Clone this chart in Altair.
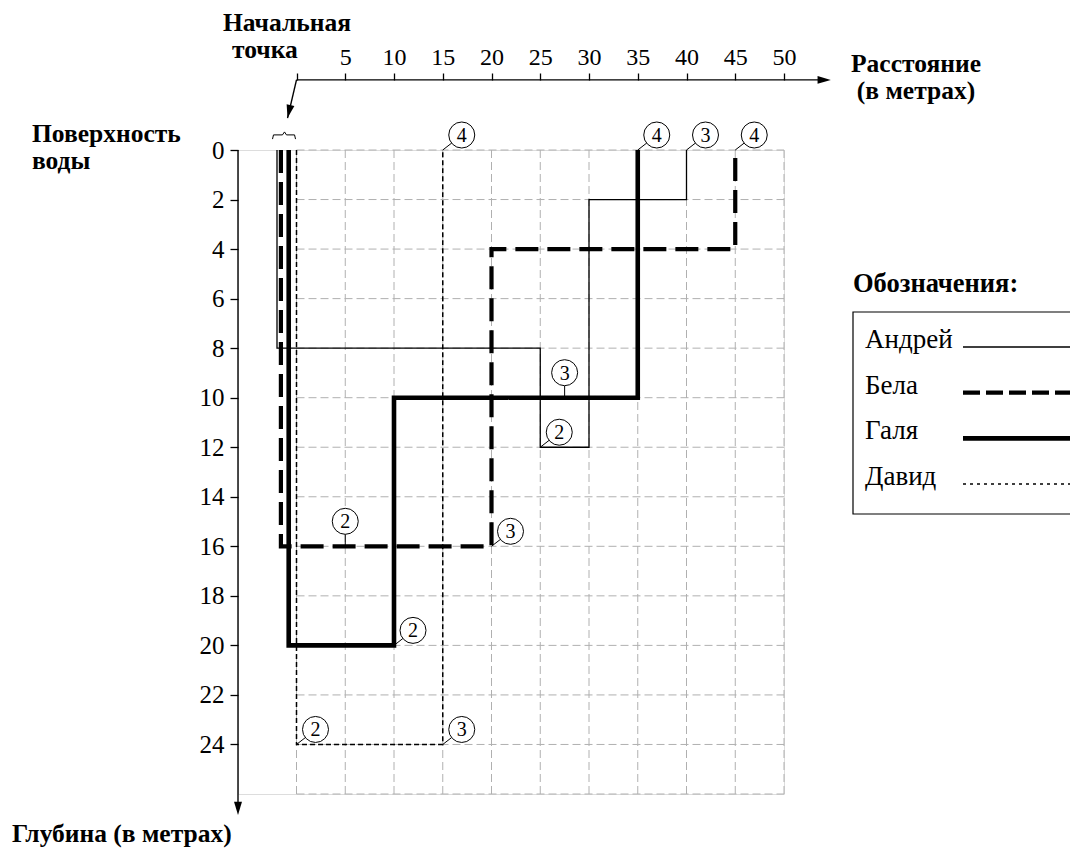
import altair as alt
import pandas as pd

FONT = "'Liberation Serif', 'Times New Roman', serif"

# ---------------- data ----------------
names = ["Андрей", "Бела", "Галя", "Давид"]

andrey_x = [-2, -2, 25, 25, 30, 30, 40, 40]
andrey_y = [0, 8, 8, 12, 12, 2, 2, 0]
bela_x = [-1.6, -1.6, 20, 20, 45, 45]
bela_y = [0, 16, 16, 4, 4, 0]
galya_x = [-0.8, -0.8, 10, 10, 35, 35]
galya_y = [0, 20, 20, 10, 10, 0]
david_x = [0, 0, 15, 15]
david_y = [0, 24, 24, 0]

x_ticks = [0, 5, 10, 15, 20, 25, 30, 35, 40, 45, 50]
y_ticks = [0, 2, 4, 6, 8, 10, 12, 14, 16, 18, 20, 22, 24]
grid_x = [0, 5, 10, 15, 20, 25, 30, 35, 40, 45, 50]
grid_y = [0, 2, 4, 6, 8, 10, 12, 14, 16, 18, 20, 22, 24, 26]

# numbered markers at path corners
corner_x = [25, 40, 20, 45, 10, 35, 0, 15, 15]
corner_y = [12, 0, 16, 0, 20, 0, 24, 24, 0]
corner_num = ["2", "3", "3", "4", "2", "4", "2", "3", "4"]
# numbered markers in the middle of a segment
mid_x = [5, 27.5]
mid_y = [16, 10]
mid_num = ["2", "3"]

# ---------------- tables ----------------
paths = []
for n, xs_, ys_ in zip(names, [andrey_x, bela_x, galya_x, david_x],
                       [andrey_y, bela_y, galya_y, david_y]):
    for i, (a, b) in enumerate(zip(xs_, ys_)):
        paths.append({"name": n, "step": i, "x": a, "y": b})
paths = pd.DataFrame(paths)

X_MIN, X_MAX = -6, 50
Y_MIN, Y_MAX = 0, 26
TOP_AXIS_Y = -2.83
X_ARROW = 54.8
Y_ARROW = 26.85

xs = alt.Scale(domain=[X_MIN, X_MAX], nice=False, zero=False)
ys = alt.Scale(domain=[Y_MIN, Y_MAX], reverse=True, nice=False, zero=False)

x_axis = alt.Axis(orient="top", offset=70, values=x_ticks, domain=False, grid=False,
                  tickColor="black", tickSize=7, tickWidth=1.3, labelFont=FONT,
                  labelFontSize=24, labelColor="black", labelPadding=4, labelAngle=0,
                  labelFlush=False, labelExpr="datum.value == 0 ? '' : datum.label")
y_axis = alt.Axis(orient="left", values=y_ticks, domain=False, grid=False,
                  tickColor="black", tickSize=8, tickWidth=1.3, labelFont=FONT,
                  labelFontSize=25, labelColor="black", labelPadding=6, labelFlush=False)


def X(f):
    return alt.X(f, type="quantitative", scale=xs, axis=x_axis, title=None)


def Y(f):
    return alt.Y(f, type="quantitative", scale=ys, axis=y_axis, title=None)


GRID = dict(color="#b0b0b0", strokeDash=[8, 4], strokeWidth=1)

vgrid = alt.Chart(pd.DataFrame({"gx": grid_x, "g0": Y_MIN, "g1": Y_MAX})).mark_rule(**GRID).encode(
    x=X("gx"), y=Y("g0"), y2="g1")
hgrid = alt.Chart(pd.DataFrame({"gy": grid_y, "g0": 0, "g1": X_MAX})).mark_rule(**GRID).encode(
    y=Y("gy"), x=X("g0"), x2="g1")

axes_df = pd.DataFrame({
    "x": [X_MIN, 0], "y": [0, TOP_AXIS_Y], "x2": [X_MIN, X_ARROW - 0.6], "y2": [Y_ARROW - 0.3, TOP_AXIS_Y]})
axis_lines = alt.Chart(axes_df).mark_rule(color="black", strokeWidth=1.4).encode(
    x=X("x"), y=Y("y"), x2="x2", y2="y2")

DOWN = "M0,0L-0.3,-1L0.3,-1Z"
RIGHT = "M0,0L-1,-0.3L-1,0.3Z"
down_arrow = alt.Chart(pd.DataFrame({"x": [X_MIN], "y": [Y_ARROW]})).mark_point(
    shape=DOWN, size=700, filled=True, color="black", opacity=1).encode(x=X("x"), y=Y("y"))
right_arrow = alt.Chart(pd.DataFrame({"x": [X_ARROW], "y": [TOP_AXIS_Y]})).mark_point(
    shape=RIGHT, size=700, filled=True, color="black", opacity=1).encode(x=X("x"), y=Y("y"))

# arrow from "Начальная точка" to the start
start_df = pd.DataFrame({"x": [0], "y": [TOP_AXIS_Y], "x2": [-0.92], "y2": [-1.29]})
start_line = alt.Chart(start_df).mark_rule(color="black", strokeWidth=1.4).encode(
    x=X("x"), y=Y("y"), x2="x2", y2="y2")
start_head = alt.Chart(start_df).mark_point(
    shape=DOWN, size=700, filled=True, color="black", opacity=1, angle=13).encode(
    x=X("x2"), y=Y("y2"))

# small brace above the four starting lines
brace_x = [-2.46, -2.36, -1.44, -1.23, -1.03, -0.2, -0.1]
brace_y = [-0.44, -0.61, -0.61, -0.73, -0.61, -0.61, -0.44]
brace = alt.Chart(pd.DataFrame({"x": brace_x, "y": brace_y, "o": range(7)})).mark_line(
    color="black", strokeWidth=1).encode(x=X("x"), y=Y("y"), order="o")

lines = alt.Chart(paths).mark_line(color="black", strokeJoin="miter", strokeCap="butt").encode(
    x=X("x"), y=Y("y"), order="step",
    detail="name:N",
    strokeDash=alt.StrokeDash("name:N", scale=alt.Scale(
        type="ordinal", domain=names, range=[[1, 0], [23, 9], [1, 0], [5, 3]]), legend=None),
    strokeWidth=alt.StrokeWidth("name:N", scale=alt.Scale(
        type="ordinal", domain=names, range=[1.3, 4.2, 4.6, 1.5]), legend=None),
)

corner_df = pd.DataFrame({"x": corner_x, "y": corner_y, "n": corner_num})
mid_df = pd.DataFrame({"x": mid_x, "y": mid_y, "n": mid_num})

CX, CY = 19, -15
corner_lead = alt.Chart(corner_df).mark_rule(color="black", strokeWidth=1, x2Offset=9, y2Offset=-7).encode(
    x=X("x"), y=Y("y"), x2="x", y2="y")
corner_circ = alt.Chart(corner_df).mark_point(
    shape="circle", size=676, filled=True, fill="white", stroke="black", strokeWidth=1,
    opacity=1, xOffset=CX, yOffset=CY).encode(x=X("x"), y=Y("y"))
corner_txt = alt.Chart(corner_df).mark_text(
    font=FONT, fontSize=20, color="black", xOffset=CX, yOffset=CY + 1, baseline="middle").encode(
    x=X("x"), y=Y("y"), text="n")

MY = -25
mid_lead = alt.Chart(mid_df).mark_rule(color="black", strokeWidth=1, y2Offset=-12).encode(
    x=X("x"), y=Y("y"), y2="y")
mid_circ = alt.Chart(mid_df).mark_point(
    shape="circle", size=676, filled=True, fill="white", stroke="black", strokeWidth=1,
    opacity=1, yOffset=MY).encode(x=X("x"), y=Y("y"))
mid_txt = alt.Chart(mid_df).mark_text(
    font=FONT, fontSize=20, color="black", yOffset=MY + 1, baseline="middle").encode(
    x=X("x"), y=Y("y"), text="n")

one = pd.DataFrame({"a": [0]})


def label(text, px, py, align="left", size=25.5, bold=True):
    return alt.Chart(one).mark_text(
        text=text, font=FONT, fontSize=size, fontWeight="bold" if bold else "normal",
        color="black", align=align, baseline="alphabetic").encode(
        x=alt.value(px), y=alt.value(py))


titles = [
    label("Начальная", -15, -119),
    label("точка", -6, -92),
    label("Расстояние", 678, -78, align="center"),
    label("(в метрах)", 678, -51, align="center"),
    label("Поверхность", -206, -8),
    label("воды", -206, 19),
    label("Глубина (в метрах)", -226, 692),
]

main = alt.layer(vgrid, hgrid, axis_lines, down_arrow, right_arrow, start_line, start_head,
                 brace, lines, corner_lead, mid_lead, corner_circ, mid_circ, corner_txt,
                 mid_txt, *titles)

# ---------------- key ----------------
key_df = pd.DataFrame({"name": names})
key_y = alt.Y("name:N", scale=alt.Scale(type="point", domain=names, range=[197, 334], padding=0),
              axis=None, title=None)
key_box = alt.Chart(one).mark_rect(fill="white", stroke="black", strokeWidth=1.2).encode(
    x=alt.value(615), x2=alt.value(870), y=alt.value(162), y2=alt.value(364))
key_title = label("Обозначения:", 615, 142, size=26.5)
key_names = alt.Chart(key_df).mark_text(
    font=FONT, fontSize=27, color="black", align="left", baseline="alphabetic", dy=1).encode(
    x=alt.value(627), y=key_y, text="name:N")
key_lines = alt.Chart(key_df).mark_rule(color="black").encode(
    x=alt.value(725), x2=alt.value(860), y=key_y,
    strokeDash=alt.StrokeDash("name:N", scale=alt.Scale(
        type="ordinal", domain=names, range=[[1, 0], [17, 6], [1, 0], [3, 4]]), legend=None),
    strokeWidth=alt.StrokeWidth("name:N", scale=alt.Scale(
        type="ordinal", domain=names, range=[1.3, 4.2, 4.6, 1.3]), legend=None),
)
key = alt.layer(key_box, key_title, key_names, key_lines)

chart = alt.layer(main, key).resolve_scale(
    y="independent", strokeDash="independent", strokeWidth="independent"
).properties(
    width=546, height=644,
    autosize=alt.AutoSizeParams(type="none"),
    padding={"left": 230, "top": 142, "right": 286, "bottom": 60},
).configure_view(stroke=None).configure(background="white")

chart.save("out.html", embed_options={"renderer": "svg", "actions": False})
